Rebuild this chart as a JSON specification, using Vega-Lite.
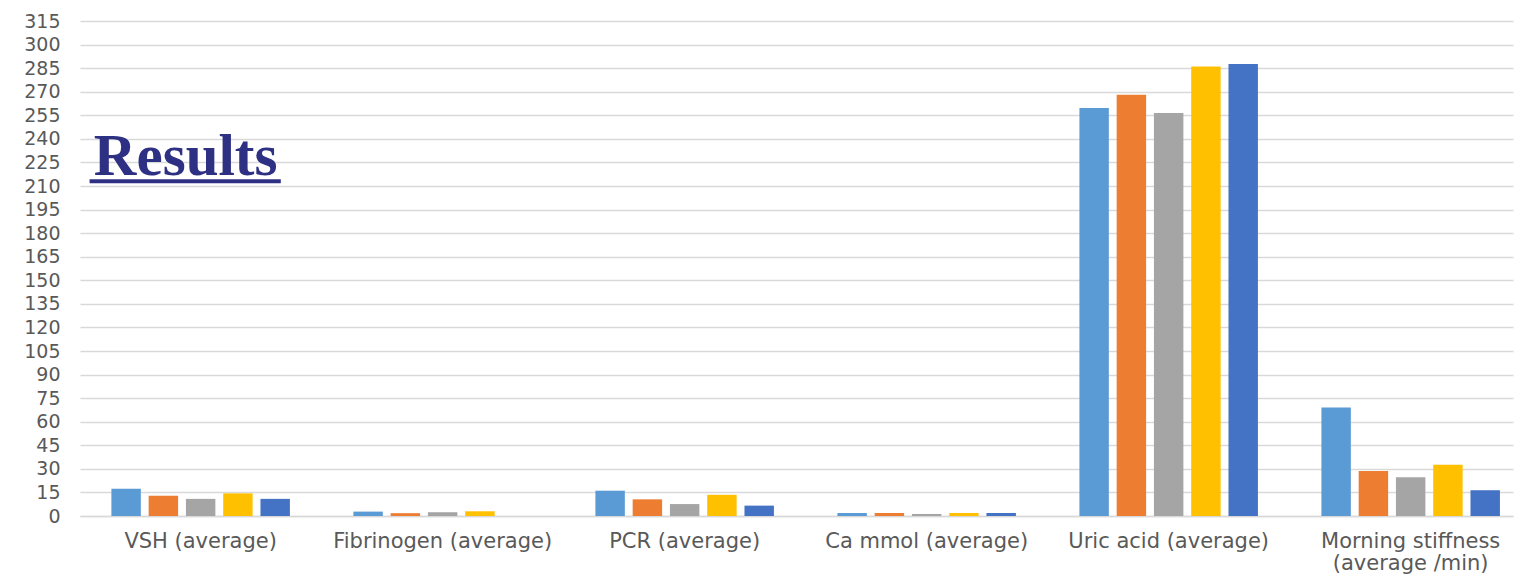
{
  "$schema": "https://vega.github.io/schema/vega-lite/v6.json",
  "autosize": {"type": "none"},
  "padding": {"left": 80, "top": 21, "right": 16, "bottom": 59},
  "width": 1433,
  "height": 495,
  "background": "white",
  "config": {"view": {"stroke": null}},
  "datasets": {
    "bars": [
      {"cat": "VSH (average)", "series": "S1", "value": 17.4},
      {"cat": "VSH (average)", "series": "S2", "value": 12.9},
      {"cat": "VSH (average)", "series": "S3", "value": 10.9},
      {"cat": "VSH (average)", "series": "S4", "value": 14.4},
      {"cat": "VSH (average)", "series": "S5", "value": 10.9},
      {"cat": "Fibrinogen (average)", "series": "S1", "value": 2.8},
      {"cat": "Fibrinogen (average)", "series": "S2", "value": 1.8},
      {"cat": "Fibrinogen (average)", "series": "S3", "value": 2.4},
      {"cat": "Fibrinogen (average)", "series": "S4", "value": 3.0},
      {"cat": "Fibrinogen (average)", "series": "S5", "value": 0},
      {"cat": "PCR (average)", "series": "S1", "value": 16.1},
      {"cat": "PCR (average)", "series": "S2", "value": 10.6},
      {"cat": "PCR (average)", "series": "S3", "value": 7.6},
      {"cat": "PCR (average)", "series": "S4", "value": 13.5},
      {"cat": "PCR (average)", "series": "S5", "value": 6.6},
      {"cat": "Ca mmol (average)", "series": "S1", "value": 1.9},
      {"cat": "Ca mmol (average)", "series": "S2", "value": 1.9},
      {"cat": "Ca mmol (average)", "series": "S3", "value": 1.3},
      {"cat": "Ca mmol (average)", "series": "S4", "value": 1.9},
      {"cat": "Ca mmol (average)", "series": "S5", "value": 1.9},
      {"cat": "Uric acid (average)", "series": "S1", "value": 259.7},
      {"cat": "Uric acid (average)", "series": "S2", "value": 268},
      {"cat": "Uric acid (average)", "series": "S3", "value": 256.4},
      {"cat": "Uric acid (average)", "series": "S4", "value": 286},
      {"cat": "Uric acid (average)", "series": "S5", "value": 287.7},
      {"cat": "Morning stiffness (average /min)", "series": "S1", "value": 69.1},
      {"cat": "Morning stiffness (average /min)", "series": "S2", "value": 28.7},
      {"cat": "Morning stiffness (average /min)", "series": "S3", "value": 24.7},
      {"cat": "Morning stiffness (average /min)", "series": "S4", "value": 32.6},
      {"cat": "Morning stiffness (average /min)", "series": "S5", "value": 16.4}
    ],
    "title": [
      {"cat": "VSH (average)", "text": "Results", "y": 217, "uy": 213.1}
    ]
  },
  "encoding": {
    "x": {
      "field": "cat",
      "type": "nominal",
      "sort": ["VSH (average)", "Fibrinogen (average)", "PCR (average)", "Ca mmol (average)", "Uric acid (average)", "Morning stiffness (average /min)"],
      "scale": {"paddingInner": 0.23, "paddingOuter": 0.0757, "align": 0.75},
      "axis": {
        "title": null,
        "labelAngle": 0,
        "ticks": false,
        "domain": true,
        "domainColor": "#D9D9D9",
        "domainWidth": 1.5,
        "labelFont": "DejaVu Sans",
        "labelFontSize": 21,
        "labelColor": "#595959",
        "labelPadding": 14,
        "labelLineHeight": 22,
        "labelLimit": 400,
        "labelExpr": "datum.value == 'Morning stiffness (average /min)' ? ['Morning stiffness', '(average /min)'] : datum.label"
      }
    }
  },
  "layer": [
    {
      "data": {"name": "bars"},
      "mark": {"type": "bar"},
      "encoding": {
        "xOffset": {
          "field": "series",
          "type": "nominal",
          "scale": {"paddingInner": 0.21, "paddingOuter": 0.105}
        },
        "y": {
          "field": "value",
          "type": "quantitative",
          "scale": {"domain": [0, 315], "nice": false},
          "axis": {
            "title": null,
            "values": [0, 15, 30, 45, 60, 75, 90, 105, 120, 135, 150, 165, 180, 195, 210, 225, 240, 255, 270, 285, 300, 315],
            "labelOverlap": false,
            "ticks": false,
            "domain": false,
            "grid": true,
            "gridColor": "#D9D9D9",
            "gridWidth": 1.5,
            "labelFont": "DejaVu Sans",
            "labelFontSize": 19,
            "labelColor": "#595959",
            "labelPadding": 20
          }
        },
        "color": {
          "field": "series",
          "type": "nominal",
          "scale": {"domain": ["S1", "S2", "S3", "S4", "S5"], "range": ["#5B9BD5", "#ED7D31", "#A5A5A5", "#FFC000", "#4472C4"]},
          "legend": null
        }
      }
    },
    {
      "data": {"name": "title"},
      "mark": {"type": "text", "font": "Liberation Serif", "fontWeight": "bold", "fontSize": 59, "color": "#2E3084", "align": "center", "baseline": "alphabetic", "dx": -15},
      "encoding": {
        "y": {
          "field": "y",
          "type": "quantitative",
          "axis": {
            "title": null,
            "values": [0, 15, 30, 45, 60, 75, 90, 105, 120, 135, 150, 165, 180, 195, 210, 225, 240, 255, 270, 285, 300, 315],
            "labelOverlap": false,
            "ticks": false,
            "domain": false,
            "grid": true,
            "gridColor": "#D9D9D9",
            "gridWidth": 1.5,
            "labelFont": "DejaVu Sans",
            "labelFontSize": 19,
            "labelColor": "#595959",
            "labelPadding": 20
          }
        },
        "text": {"field": "text"}
      }
    },
    {
      "data": {"name": "title"},
      "mark": {"type": "rule", "color": "#2E3084", "strokeWidth": 4},
      "encoding": {
        "x": {"field": "cat", "type": "nominal", "bandPosition": -0.096, "sort": ["VSH (average)", "Fibrinogen (average)", "PCR (average)", "Ca mmol (average)", "Uric acid (average)", "Morning stiffness (average /min)"]},
        "x2": {"field": "cat", "bandPosition": 0.93},
        "y": {
          "field": "uy",
          "type": "quantitative",
          "axis": {
            "title": null,
            "values": [0, 15, 30, 45, 60, 75, 90, 105, 120, 135, 150, 165, 180, 195, 210, 225, 240, 255, 270, 285, 300, 315],
            "labelOverlap": false,
            "ticks": false,
            "domain": false,
            "grid": true,
            "gridColor": "#D9D9D9",
            "gridWidth": 1.5,
            "labelFont": "DejaVu Sans",
            "labelFontSize": 19,
            "labelColor": "#595959",
            "labelPadding": 20
          }
        }
      }
    }
  ]
}
